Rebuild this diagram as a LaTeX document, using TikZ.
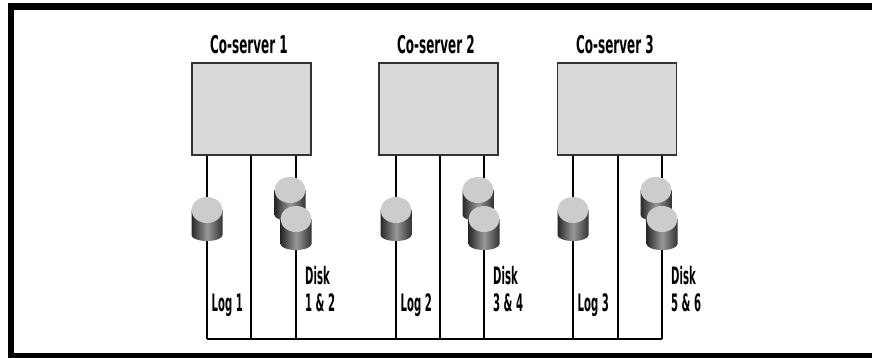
\documentclass[tikz,border=0pt]{standalone}
\usepackage{fontspec}
\setmainfont{DejaVu Sans}
\newcommand{\squeeze}[2]{\scalebox{#1}[1]{#2}}
% a disk: name, x, y of the top face centre
\newcommand{\disk}[3]{%
  \begin{scope}[shift={(#2,#3)}]
    \shade[disk side] (-15.5,0) -- (-15.5,25) arc[start angle=180,end angle=0,x radius=15.5,y radius=6] -- (15.5,0) -- cycle;
    \fill[disk top] (0,0) ellipse[x radius=15.5,y radius=13];
  \end{scope}
  \coordinate (#1) at (#2,#3);
}
\begin{document}
\begin{tikzpicture}[x=1pt,y=-1pt,
    server/.style={draw=black!80,line width=1.5pt,fill=black!15,minimum width=119pt,minimum height=92pt,inner sep=0pt},
    title/.style={font=\bfseries\fontsize{24.5}{28}\selectfont,anchor=base,inner sep=0pt},
    lbl/.style={font=\bfseries\fontsize{24}{27.7}\selectfont,anchor=base west,inner sep=0pt,align=left},
    wire/.style={line width=1.2pt},
    disk side/.style={left color=black!85,right color=black!80,middle color=black!40},
    disk top/.style={fill=black!20}]
    \useasboundingbox (0,0) rectangle (872,357);
    \clip (0,0) rectangle (872,357);
    \draw[line width=6.5pt]
    (11,6.5) rectangle (890,356)
    ;
    \foreach \i/\c/\t/\a/\b/\d/\m in {1/251.5/249/207/251/296/1 \& 2,
        2/438.5/436/396/440/484/3 \& 4,
        3/617/615/573/618/662/5 \& 6}
    {
        \node[title] (t\i) at (\t,53.8) {\squeeze{0.49}{Co-server \i}};
        \node[server] (cs\i) at (\c,109) {};
        \coordinate (log\i) at (\a,339);
        \coordinate (mid\i) at (\b,339);
        \coordinate (pair\i) at (\d,339);
        \draw[wire] (log\i |- cs\i.south) -- (log\i);
        \draw[wire] (mid\i |- cs\i.south) -- (mid\i);
        \draw[wire] (pair\i |- cs\i.south) -- (pair\i);
        \disk{dlog\i}{\a}{210}
        \disk{dup\i}{\d-6}{190}
        \disk{dlow\i}{\d}{219}
        \node[lbl] (ll\i) at (\a+4.5,311.7) {\squeeze{0.42}{Log \i}};
        \node[lbl] (ld\i) at (\d+9,311.7) {\squeeze{0.42}{Disk}\\\squeeze{0.42}{\m}};
    }
    \draw[line width=1.5pt]
    (log1) -- (pair3)
    ;
\end{tikzpicture}
\end{document}
